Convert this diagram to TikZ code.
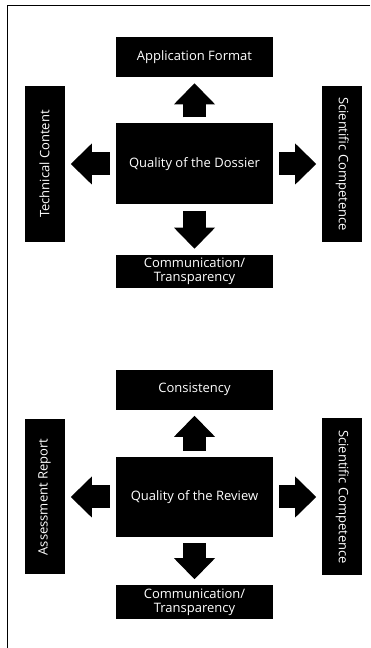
\documentclass[tikz,border=0pt]{standalone}
\usepackage{fontspec}
\setsansfont{Open Sans}
\usetikzlibrary{arrows.meta,positioning}

\begin{document}
\begin{tikzpicture}[
  x=1pt, y=1pt,
  qbox/.style={fill=black, text=white, inner sep=0pt, align=center,
               font=\sffamily\fontsize{13}{13.5}\selectfont,
               minimum width=157pt},
  core/.style={qbox, minimum height=81pt},
  topbox/.style={qbox, minimum height=40pt},
  botbox/.style={qbox, minimum height=33pt},
  sidebox/.style={qbox, minimum width=40pt, minimum height=156pt},
  blockarrow/.style={-{Triangle[length=21pt,width=41pt,line width=0pt]},
                     line width=23pt, shorten <=6pt, shorten >=6pt},
]
  \useasboundingbox (0,0) rectangle (370,648);

  %% ── frame (top and left edge) ──
  \draw[line width=0.8pt] (370,643) -- (7,643) -- (7,0);

  %% ── Quality of the Dossier ──
  \node[core] (dossier) at (194.5,484) {Quality of the Dossier};
  \node[topbox, above=46pt of dossier] (appfmt) {Application Format};
  \node[botbox, below=50pt of dossier] (comm) {Communication/\\Transparency};
  \node[sidebox, left=51pt of dossier] (techc) {\rotatebox{90}{Technical Content}};
  \node[sidebox, right=49pt of dossier] (scicomp) {\rotatebox{-90}{Scientific Competence}};

  \draw[blockarrow] (dossier) -- (appfmt);
  \draw[blockarrow] (dossier) -- (comm);
  \draw[blockarrow] (dossier) -- (techc);
  \draw[blockarrow] (dossier) -- (scicomp);

  %% ── Quality of the Review ──
  \node[core, minimum height=80pt] (review) at (194.5,151) {Quality of the Review};
  \node[topbox, above=47pt of review] (consist) {Consistency};
  \node[botbox, minimum height=34pt, below=48pt of review] (commrev) {Communication/\\Transparency};
  \node[sidebox, minimum height=155pt, left=51pt of review] (assess) {\rotatebox{90}{Assessment Report}};
  \node[sidebox, minimum height=157pt, right=49pt of review] (scirev) {\rotatebox{-90}{Scientific Competence}};

  \draw[blockarrow] (review) -- (consist);
  \draw[blockarrow] (review) -- (commrev);
  \draw[blockarrow] (review) -- (assess);
  \draw[blockarrow] (review) -- (scirev);

\end{tikzpicture}
\end{document}
